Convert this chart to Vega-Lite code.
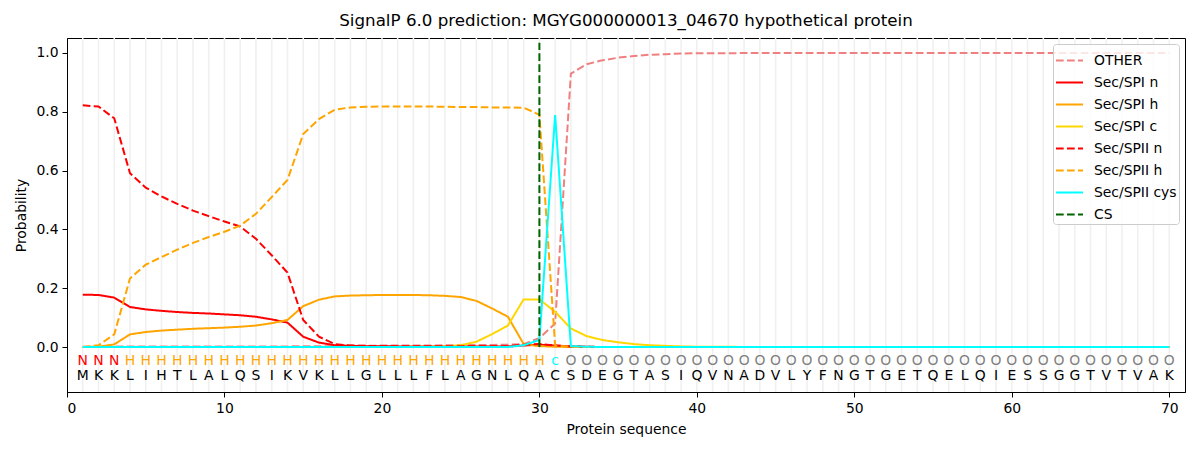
{
  "$schema": "https://vega.github.io/schema/vega-lite/v6.json",
  "width": 1118,
  "height": 354,
  "autosize": {"type": "none"},
  "padding": {"left": 67, "top": 38, "right": 15, "bottom": 58},
  "title": {
    "text": "SignalP 6.0 prediction: MGYG000000013_04670 hypothetical protein",
    "fontSize": 16.7,
    "fontWeight": "normal",
    "font": "DejaVu Sans",
    "color": "black",
    "offset": 8
  },
  "datasets": {
    "pred": [
      {"pos": 1, "aa": "M", "lab": "N", "OTHER": 0.001, "Sec/SPI n": 0.178, "Sec/SPI h": 0.000, "Sec/SPI c": 0.000, "Sec/SPII n": 0.822, "Sec/SPII h": 0.000, "Sec/SPII cys": 0.000},
      {"pos": 2, "aa": "K", "lab": "N", "OTHER": 0.001, "Sec/SPI n": 0.177, "Sec/SPI h": 0.001, "Sec/SPI c": 0.000, "Sec/SPII n": 0.818, "Sec/SPII h": 0.006, "Sec/SPII cys": 0.000},
      {"pos": 3, "aa": "K", "lab": "N", "OTHER": 0.002, "Sec/SPI n": 0.168, "Sec/SPI h": 0.009, "Sec/SPI c": 0.000, "Sec/SPII n": 0.778, "Sec/SPII h": 0.043, "Sec/SPII cys": 0.000},
      {"pos": 4, "aa": "L", "lab": "H", "OTHER": 0.002, "Sec/SPI n": 0.136, "Sec/SPI h": 0.043, "Sec/SPI c": 0.000, "Sec/SPII n": 0.591, "Sec/SPII h": 0.233, "Sec/SPII cys": 0.000},
      {"pos": 5, "aa": "I", "lab": "H", "OTHER": 0.002, "Sec/SPI n": 0.128, "Sec/SPI h": 0.051, "Sec/SPI c": 0.000, "Sec/SPII n": 0.542, "Sec/SPII h": 0.280, "Sec/SPII cys": 0.000},
      {"pos": 6, "aa": "H", "lab": "H", "OTHER": 0.002, "Sec/SPI n": 0.123, "Sec/SPI h": 0.056, "Sec/SPI c": 0.000, "Sec/SPII n": 0.512, "Sec/SPII h": 0.306, "Sec/SPII cys": 0.000},
      {"pos": 7, "aa": "T", "lab": "H", "OTHER": 0.002, "Sec/SPI n": 0.119, "Sec/SPI h": 0.059, "Sec/SPI c": 0.000, "Sec/SPII n": 0.487, "Sec/SPII h": 0.331, "Sec/SPII cys": 0.000},
      {"pos": 8, "aa": "L", "lab": "H", "OTHER": 0.002, "Sec/SPI n": 0.116, "Sec/SPI h": 0.062, "Sec/SPI c": 0.000, "Sec/SPII n": 0.464, "Sec/SPII h": 0.354, "Sec/SPII cys": 0.000},
      {"pos": 9, "aa": "A", "lab": "H", "OTHER": 0.002, "Sec/SPI n": 0.114, "Sec/SPI h": 0.064, "Sec/SPI c": 0.000, "Sec/SPII n": 0.445, "Sec/SPII h": 0.374, "Sec/SPII cys": 0.000},
      {"pos": 10, "aa": "L", "lab": "H", "OTHER": 0.002, "Sec/SPI n": 0.111, "Sec/SPI h": 0.066, "Sec/SPI c": 0.000, "Sec/SPII n": 0.427, "Sec/SPII h": 0.392, "Sec/SPII cys": 0.000},
      {"pos": 11, "aa": "Q", "lab": "H", "OTHER": 0.002, "Sec/SPI n": 0.108, "Sec/SPI h": 0.069, "Sec/SPI c": 0.000, "Sec/SPII n": 0.410, "Sec/SPII h": 0.413, "Sec/SPII cys": 0.000},
      {"pos": 12, "aa": "S", "lab": "H", "OTHER": 0.002, "Sec/SPI n": 0.103, "Sec/SPI h": 0.073, "Sec/SPI c": 0.000, "Sec/SPII n": 0.368, "Sec/SPII h": 0.453, "Sec/SPII cys": 0.000},
      {"pos": 13, "aa": "I", "lab": "H", "OTHER": 0.002, "Sec/SPI n": 0.094, "Sec/SPI h": 0.081, "Sec/SPI c": 0.000, "Sec/SPII n": 0.312, "Sec/SPII h": 0.510, "Sec/SPII cys": 0.000},
      {"pos": 14, "aa": "K", "lab": "H", "OTHER": 0.002, "Sec/SPI n": 0.083, "Sec/SPI h": 0.092, "Sec/SPI c": 0.000, "Sec/SPII n": 0.253, "Sec/SPII h": 0.568, "Sec/SPII cys": 0.000},
      {"pos": 15, "aa": "V", "lab": "H", "OTHER": 0.003, "Sec/SPI n": 0.035, "Sec/SPI h": 0.139, "Sec/SPI c": 0.000, "Sec/SPII n": 0.092, "Sec/SPII h": 0.724, "Sec/SPII cys": 0.000},
      {"pos": 16, "aa": "K", "lab": "H", "OTHER": 0.003, "Sec/SPI n": 0.015, "Sec/SPI h": 0.161, "Sec/SPI c": 0.000, "Sec/SPII n": 0.035, "Sec/SPII h": 0.775, "Sec/SPII cys": 0.000},
      {"pos": 17, "aa": "L", "lab": "H", "OTHER": 0.003, "Sec/SPI n": 0.006, "Sec/SPI h": 0.172, "Sec/SPI c": 0.000, "Sec/SPII n": 0.010, "Sec/SPII h": 0.807, "Sec/SPII cys": 0.000},
      {"pos": 18, "aa": "L", "lab": "H", "OTHER": 0.004, "Sec/SPI n": 0.004, "Sec/SPI h": 0.175, "Sec/SPI c": 0.000, "Sec/SPII n": 0.005, "Sec/SPII h": 0.815, "Sec/SPII cys": 0.000},
      {"pos": 19, "aa": "G", "lab": "H", "OTHER": 0.004, "Sec/SPI n": 0.003, "Sec/SPI h": 0.176, "Sec/SPI c": 0.000, "Sec/SPII n": 0.004, "Sec/SPII h": 0.817, "Sec/SPII cys": 0.000},
      {"pos": 20, "aa": "L", "lab": "H", "OTHER": 0.005, "Sec/SPI n": 0.003, "Sec/SPI h": 0.177, "Sec/SPI c": 0.000, "Sec/SPII n": 0.003, "Sec/SPII h": 0.818, "Sec/SPII cys": 0.000},
      {"pos": 21, "aa": "L", "lab": "H", "OTHER": 0.005, "Sec/SPI n": 0.002, "Sec/SPI h": 0.177, "Sec/SPI c": 0.000, "Sec/SPII n": 0.003, "Sec/SPII h": 0.818, "Sec/SPII cys": 0.000},
      {"pos": 22, "aa": "L", "lab": "H", "OTHER": 0.005, "Sec/SPI n": 0.002, "Sec/SPI h": 0.177, "Sec/SPI c": 0.001, "Sec/SPII n": 0.003, "Sec/SPII h": 0.818, "Sec/SPII cys": 0.000},
      {"pos": 23, "aa": "F", "lab": "H", "OTHER": 0.005, "Sec/SPI n": 0.002, "Sec/SPI h": 0.176, "Sec/SPI c": 0.001, "Sec/SPII n": 0.003, "Sec/SPII h": 0.818, "Sec/SPII cys": 0.000},
      {"pos": 24, "aa": "L", "lab": "H", "OTHER": 0.006, "Sec/SPI n": 0.002, "Sec/SPI h": 0.174, "Sec/SPI c": 0.002, "Sec/SPII n": 0.003, "Sec/SPII h": 0.817, "Sec/SPII cys": 0.000},
      {"pos": 25, "aa": "A", "lab": "H", "OTHER": 0.006, "Sec/SPI n": 0.002, "Sec/SPI h": 0.170, "Sec/SPI c": 0.006, "Sec/SPII n": 0.003, "Sec/SPII h": 0.816, "Sec/SPII cys": 0.000},
      {"pos": 26, "aa": "G", "lab": "H", "OTHER": 0.007, "Sec/SPI n": 0.002, "Sec/SPI h": 0.157, "Sec/SPI c": 0.018, "Sec/SPII n": 0.003, "Sec/SPII h": 0.816, "Sec/SPII cys": 0.000},
      {"pos": 27, "aa": "N", "lab": "H", "OTHER": 0.007, "Sec/SPI n": 0.002, "Sec/SPI h": 0.131, "Sec/SPI c": 0.044, "Sec/SPII n": 0.003, "Sec/SPII h": 0.815, "Sec/SPII cys": 0.000},
      {"pos": 28, "aa": "L", "lab": "H", "OTHER": 0.008, "Sec/SPI n": 0.002, "Sec/SPI h": 0.103, "Sec/SPI c": 0.073, "Sec/SPII n": 0.003, "Sec/SPII h": 0.815, "Sec/SPII cys": 0.000},
      {"pos": 29, "aa": "Q", "lab": "H", "OTHER": 0.010, "Sec/SPI n": 0.005, "Sec/SPI h": 0.010, "Sec/SPI c": 0.162, "Sec/SPII n": 0.008, "Sec/SPII h": 0.814, "Sec/SPII cys": 0.006},
      {"pos": 30, "aa": "A", "lab": "H", "OTHER": 0.030, "Sec/SPI n": 0.008, "Sec/SPI h": 0.003, "Sec/SPI c": 0.162, "Sec/SPII n": 0.010, "Sec/SPII h": 0.790, "Sec/SPII cys": 0.024},
      {"pos": 31, "aa": "C", "lab": "c", "OTHER": 0.080, "Sec/SPI n": 0.005, "Sec/SPI h": 0.001, "Sec/SPI c": 0.120, "Sec/SPII n": 0.005, "Sec/SPII h": 0.005, "Sec/SPII cys": 0.789},
      {"pos": 32, "aa": "S", "lab": "O", "OTHER": 0.930, "Sec/SPI n": 0.002, "Sec/SPI h": 0.000, "Sec/SPI c": 0.063, "Sec/SPII n": 0.002, "Sec/SPII h": 0.001, "Sec/SPII cys": 0.003},
      {"pos": 33, "aa": "D", "lab": "O", "OTHER": 0.962, "Sec/SPI n": 0.001, "Sec/SPI h": 0.000, "Sec/SPI c": 0.037, "Sec/SPII n": 0.001, "Sec/SPII h": 0.000, "Sec/SPII cys": 0.001},
      {"pos": 34, "aa": "E", "lab": "O", "OTHER": 0.975, "Sec/SPI n": 0.000, "Sec/SPI h": 0.000, "Sec/SPI c": 0.024, "Sec/SPII n": 0.000, "Sec/SPII h": 0.000, "Sec/SPII cys": 0.000},
      {"pos": 35, "aa": "G", "lab": "O", "OTHER": 0.984, "Sec/SPI n": 0.000, "Sec/SPI h": 0.000, "Sec/SPI c": 0.016, "Sec/SPII n": 0.000, "Sec/SPII h": 0.000, "Sec/SPII cys": 0.000},
      {"pos": 36, "aa": "T", "lab": "O", "OTHER": 0.990, "Sec/SPI n": 0.000, "Sec/SPI h": 0.000, "Sec/SPI c": 0.010, "Sec/SPII n": 0.000, "Sec/SPII h": 0.000, "Sec/SPII cys": 0.000},
      {"pos": 37, "aa": "A", "lab": "O", "OTHER": 0.994, "Sec/SPI n": 0.000, "Sec/SPI h": 0.000, "Sec/SPI c": 0.006, "Sec/SPII n": 0.000, "Sec/SPII h": 0.000, "Sec/SPII cys": 0.000},
      {"pos": 38, "aa": "S", "lab": "O", "OTHER": 0.996, "Sec/SPI n": 0.000, "Sec/SPI h": 0.000, "Sec/SPI c": 0.004, "Sec/SPII n": 0.000, "Sec/SPII h": 0.000, "Sec/SPII cys": 0.000},
      {"pos": 39, "aa": "I", "lab": "O", "OTHER": 0.998, "Sec/SPI n": 0.000, "Sec/SPI h": 0.000, "Sec/SPI c": 0.002, "Sec/SPII n": 0.000, "Sec/SPII h": 0.000, "Sec/SPII cys": 0.000},
      {"pos": 40, "aa": "Q", "lab": "O", "OTHER": 0.999, "Sec/SPI n": 0.000, "Sec/SPI h": 0.000, "Sec/SPI c": 0.001, "Sec/SPII n": 0.000, "Sec/SPII h": 0.000, "Sec/SPII cys": 0.000},
      {"pos": 41, "aa": "V", "lab": "O", "OTHER": 0.999, "Sec/SPI n": 0.000, "Sec/SPI h": 0.000, "Sec/SPI c": 0.001, "Sec/SPII n": 0.000, "Sec/SPII h": 0.000, "Sec/SPII cys": 0.000},
      {"pos": 42, "aa": "N", "lab": "O", "OTHER": 0.999, "Sec/SPI n": 0.000, "Sec/SPI h": 0.000, "Sec/SPI c": 0.001, "Sec/SPII n": 0.000, "Sec/SPII h": 0.000, "Sec/SPII cys": 0.000},
      {"pos": 43, "aa": "A", "lab": "O", "OTHER": 1.000, "Sec/SPI n": 0.000, "Sec/SPI h": 0.000, "Sec/SPI c": 0.000, "Sec/SPII n": 0.000, "Sec/SPII h": 0.000, "Sec/SPII cys": 0.000},
      {"pos": 44, "aa": "D", "lab": "O", "OTHER": 1.000, "Sec/SPI n": 0.000, "Sec/SPI h": 0.000, "Sec/SPI c": 0.000, "Sec/SPII n": 0.000, "Sec/SPII h": 0.000, "Sec/SPII cys": 0.000},
      {"pos": 45, "aa": "V", "lab": "O", "OTHER": 1.000, "Sec/SPI n": 0.000, "Sec/SPI h": 0.000, "Sec/SPI c": 0.000, "Sec/SPII n": 0.000, "Sec/SPII h": 0.000, "Sec/SPII cys": 0.000},
      {"pos": 46, "aa": "L", "lab": "O", "OTHER": 1.000, "Sec/SPI n": 0.000, "Sec/SPI h": 0.000, "Sec/SPI c": 0.000, "Sec/SPII n": 0.000, "Sec/SPII h": 0.000, "Sec/SPII cys": 0.000},
      {"pos": 47, "aa": "Y", "lab": "O", "OTHER": 1.000, "Sec/SPI n": 0.000, "Sec/SPI h": 0.000, "Sec/SPI c": 0.000, "Sec/SPII n": 0.000, "Sec/SPII h": 0.000, "Sec/SPII cys": 0.000},
      {"pos": 48, "aa": "F", "lab": "O", "OTHER": 1.000, "Sec/SPI n": 0.000, "Sec/SPI h": 0.000, "Sec/SPI c": 0.000, "Sec/SPII n": 0.000, "Sec/SPII h": 0.000, "Sec/SPII cys": 0.000},
      {"pos": 49, "aa": "N", "lab": "O", "OTHER": 1.000, "Sec/SPI n": 0.000, "Sec/SPI h": 0.000, "Sec/SPI c": 0.000, "Sec/SPII n": 0.000, "Sec/SPII h": 0.000, "Sec/SPII cys": 0.000},
      {"pos": 50, "aa": "G", "lab": "O", "OTHER": 1.000, "Sec/SPI n": 0.000, "Sec/SPI h": 0.000, "Sec/SPI c": 0.000, "Sec/SPII n": 0.000, "Sec/SPII h": 0.000, "Sec/SPII cys": 0.000},
      {"pos": 51, "aa": "T", "lab": "O", "OTHER": 1.000, "Sec/SPI n": 0.000, "Sec/SPI h": 0.000, "Sec/SPI c": 0.000, "Sec/SPII n": 0.000, "Sec/SPII h": 0.000, "Sec/SPII cys": 0.000},
      {"pos": 52, "aa": "G", "lab": "O", "OTHER": 1.000, "Sec/SPI n": 0.000, "Sec/SPI h": 0.000, "Sec/SPI c": 0.000, "Sec/SPII n": 0.000, "Sec/SPII h": 0.000, "Sec/SPII cys": 0.000},
      {"pos": 53, "aa": "E", "lab": "O", "OTHER": 1.000, "Sec/SPI n": 0.000, "Sec/SPI h": 0.000, "Sec/SPI c": 0.000, "Sec/SPII n": 0.000, "Sec/SPII h": 0.000, "Sec/SPII cys": 0.000},
      {"pos": 54, "aa": "T", "lab": "O", "OTHER": 1.000, "Sec/SPI n": 0.000, "Sec/SPI h": 0.000, "Sec/SPI c": 0.000, "Sec/SPII n": 0.000, "Sec/SPII h": 0.000, "Sec/SPII cys": 0.000},
      {"pos": 55, "aa": "Q", "lab": "O", "OTHER": 1.000, "Sec/SPI n": 0.000, "Sec/SPI h": 0.000, "Sec/SPI c": 0.000, "Sec/SPII n": 0.000, "Sec/SPII h": 0.000, "Sec/SPII cys": 0.000},
      {"pos": 56, "aa": "E", "lab": "O", "OTHER": 1.000, "Sec/SPI n": 0.000, "Sec/SPI h": 0.000, "Sec/SPI c": 0.000, "Sec/SPII n": 0.000, "Sec/SPII h": 0.000, "Sec/SPII cys": 0.000},
      {"pos": 57, "aa": "L", "lab": "O", "OTHER": 1.000, "Sec/SPI n": 0.000, "Sec/SPI h": 0.000, "Sec/SPI c": 0.000, "Sec/SPII n": 0.000, "Sec/SPII h": 0.000, "Sec/SPII cys": 0.000},
      {"pos": 58, "aa": "Q", "lab": "O", "OTHER": 1.000, "Sec/SPI n": 0.000, "Sec/SPI h": 0.000, "Sec/SPI c": 0.000, "Sec/SPII n": 0.000, "Sec/SPII h": 0.000, "Sec/SPII cys": 0.000},
      {"pos": 59, "aa": "I", "lab": "O", "OTHER": 1.000, "Sec/SPI n": 0.000, "Sec/SPI h": 0.000, "Sec/SPI c": 0.000, "Sec/SPII n": 0.000, "Sec/SPII h": 0.000, "Sec/SPII cys": 0.000},
      {"pos": 60, "aa": "E", "lab": "O", "OTHER": 1.000, "Sec/SPI n": 0.000, "Sec/SPI h": 0.000, "Sec/SPI c": 0.000, "Sec/SPII n": 0.000, "Sec/SPII h": 0.000, "Sec/SPII cys": 0.000},
      {"pos": 61, "aa": "S", "lab": "O", "OTHER": 1.000, "Sec/SPI n": 0.000, "Sec/SPI h": 0.000, "Sec/SPI c": 0.000, "Sec/SPII n": 0.000, "Sec/SPII h": 0.000, "Sec/SPII cys": 0.000},
      {"pos": 62, "aa": "S", "lab": "O", "OTHER": 1.000, "Sec/SPI n": 0.000, "Sec/SPI h": 0.000, "Sec/SPI c": 0.000, "Sec/SPII n": 0.000, "Sec/SPII h": 0.000, "Sec/SPII cys": 0.000},
      {"pos": 63, "aa": "G", "lab": "O", "OTHER": 1.000, "Sec/SPI n": 0.000, "Sec/SPI h": 0.000, "Sec/SPI c": 0.000, "Sec/SPII n": 0.000, "Sec/SPII h": 0.000, "Sec/SPII cys": 0.000},
      {"pos": 64, "aa": "G", "lab": "O", "OTHER": 1.000, "Sec/SPI n": 0.000, "Sec/SPI h": 0.000, "Sec/SPI c": 0.000, "Sec/SPII n": 0.000, "Sec/SPII h": 0.000, "Sec/SPII cys": 0.000},
      {"pos": 65, "aa": "T", "lab": "O", "OTHER": 1.000, "Sec/SPI n": 0.000, "Sec/SPI h": 0.000, "Sec/SPI c": 0.000, "Sec/SPII n": 0.000, "Sec/SPII h": 0.000, "Sec/SPII cys": 0.000},
      {"pos": 66, "aa": "V", "lab": "O", "OTHER": 1.000, "Sec/SPI n": 0.000, "Sec/SPI h": 0.000, "Sec/SPI c": 0.000, "Sec/SPII n": 0.000, "Sec/SPII h": 0.000, "Sec/SPII cys": 0.000},
      {"pos": 67, "aa": "T", "lab": "O", "OTHER": 1.000, "Sec/SPI n": 0.000, "Sec/SPI h": 0.000, "Sec/SPI c": 0.000, "Sec/SPII n": 0.000, "Sec/SPII h": 0.000, "Sec/SPII cys": 0.000},
      {"pos": 68, "aa": "V", "lab": "O", "OTHER": 1.000, "Sec/SPI n": 0.000, "Sec/SPI h": 0.000, "Sec/SPI c": 0.000, "Sec/SPII n": 0.000, "Sec/SPII h": 0.000, "Sec/SPII cys": 0.000},
      {"pos": 69, "aa": "A", "lab": "O", "OTHER": 1.000, "Sec/SPI n": 0.000, "Sec/SPI h": 0.000, "Sec/SPI c": 0.000, "Sec/SPII n": 0.000, "Sec/SPII h": 0.000, "Sec/SPII cys": 0.000},
      {"pos": 70, "aa": "K", "lab": "O", "OTHER": 1.000, "Sec/SPI n": 0.000, "Sec/SPI h": 0.000, "Sec/SPI c": 0.000, "Sec/SPII n": 0.000, "Sec/SPII h": 0.000, "Sec/SPII cys": 0.000}
    ],
    "cs": [
      {"pos": 30, "prob": 0, "series": "CS"},
      {"pos": 30, "prob": 1.035, "series": "CS"}
    ]
  },
  "layer": [
    {
      "data": {"name": "pred"},
      "mark": {"type": "rule", "color": "#f0f0f0", "strokeWidth": 1.6},
      "encoding": {
        "x": {
          "field": "pos",
          "type": "quantitative",
          "title": "Protein sequence",
          "scale": {"domain": [0, 71], "nice": false, "zero": false},
          "axis": {"values": [0, 10, 20, 30, 40, 50, 60, 70], "grid": false, "titlePadding": 8}
        }
      }
    },
    {
      "data": {"name": "pred"},
      "transform": [
        {"fold": ["OTHER", "Sec/SPI n", "Sec/SPI h", "Sec/SPI c", "Sec/SPII n", "Sec/SPII h", "Sec/SPII cys"], "as": ["series", "prob"]}
      ],
      "mark": {"type": "line", "strokeWidth": 2},
      "encoding": {
        "x": {"field": "pos", "type": "quantitative"},
        "y": {
          "field": "prob",
          "type": "quantitative",
          "title": "Probability",
          "scale": {"domain": [-0.153, 1.051], "nice": false, "zero": false},
          "axis": {"values": [0, 0.2, 0.4, 0.6, 0.8, 1.0], "format": ".1f", "grid": false, "titlePadding": 7}
        },
        "color": {
          "field": "series",
          "type": "nominal",
          "title": null,
          "scale": {
            "domain": ["OTHER", "Sec/SPI n", "Sec/SPI h", "Sec/SPI c", "Sec/SPII n", "Sec/SPII h", "Sec/SPII cys", "CS"],
            "range": ["#f08080", "#ff0000", "#ffa500", "#ffd700", "#ff0000", "#ffa500", "#00ffff", "#006400"]
          }
        },
        "strokeDash": {
          "field": "series",
          "type": "nominal",
          "title": null,
          "scale": {
            "domain": ["OTHER", "Sec/SPI n", "Sec/SPI h", "Sec/SPI c", "Sec/SPII n", "Sec/SPII h", "Sec/SPII cys", "CS"],
            "range": [[7.7, 3.3], [1, 0], [1, 0], [1, 0], [7.7, 3.3], [7.7, 3.3], [1, 0], [7.7, 3.3]]
          }
        }
      }
    },
    {
      "data": {"name": "cs"},
      "mark": {"type": "line", "strokeWidth": 2},
      "encoding": {
        "x": {"field": "pos", "type": "quantitative"},
        "y": {"field": "prob", "type": "quantitative"},
        "color": {"field": "series", "type": "nominal", "title": null},
        "strokeDash": {"field": "series", "type": "nominal", "title": null}
      }
    },
    {
      "data": {"name": "pred"},
      "mark": {"type": "text", "font": "DejaVu Sans", "fontSize": 13.9, "baseline": "middle", "align": "center"},
      "encoding": {
        "x": {"field": "pos", "type": "quantitative"},
        "y": {"datum": -0.0475, "type": "quantitative"},
        "text": {"field": "lab", "type": "nominal"},
        "fill": {
          "field": "lab",
          "type": "nominal",
          "legend": null,
          "scale": {"domain": ["N", "H", "c", "O"], "range": ["#ff0000", "#ffa500", "#00ffff", "#808080"]}
        }
      }
    },
    {
      "data": {"name": "pred"},
      "mark": {"type": "text", "font": "DejaVu Sans", "fontSize": 13.9, "baseline": "middle", "align": "center", "fill": "black"},
      "encoding": {
        "x": {"field": "pos", "type": "quantitative"},
        "y": {"datum": -0.1, "type": "quantitative"},
        "text": {"field": "aa", "type": "nominal"}
      }
    }
  ],
  "config": {
    "font": "DejaVu Sans",
    "view": {"stroke": "black", "strokeWidth": 1},
    "axis": {
      "labelFont": "DejaVu Sans",
      "titleFont": "DejaVu Sans",
      "labelFontSize": 13.9,
      "titleFontSize": 13.9,
      "titleFontWeight": "normal",
      "labelColor": "black",
      "titleColor": "black",
      "domainColor": "black",
      "tickColor": "black",
      "tickSize": 5,
      "labelPadding": 4
    },
    "legend": {
      "orient": "top-right",
      "offset": 6,
      "padding": 2,
      "fillColor": "rgba(255,255,255,0.8)",
      "strokeColor": "#cccccc",
      "cornerRadius": 3,
      "symbolType": "stroke",
      "symbolStrokeWidth": 2,
      "symbolSize": 729,
      "rowPadding": 0,
      "labelFont": "DejaVu Sans",
      "labelFontSize": 13.9,
      "labelColor": "black",
      "labelOffset": 10
    }
  }
}
